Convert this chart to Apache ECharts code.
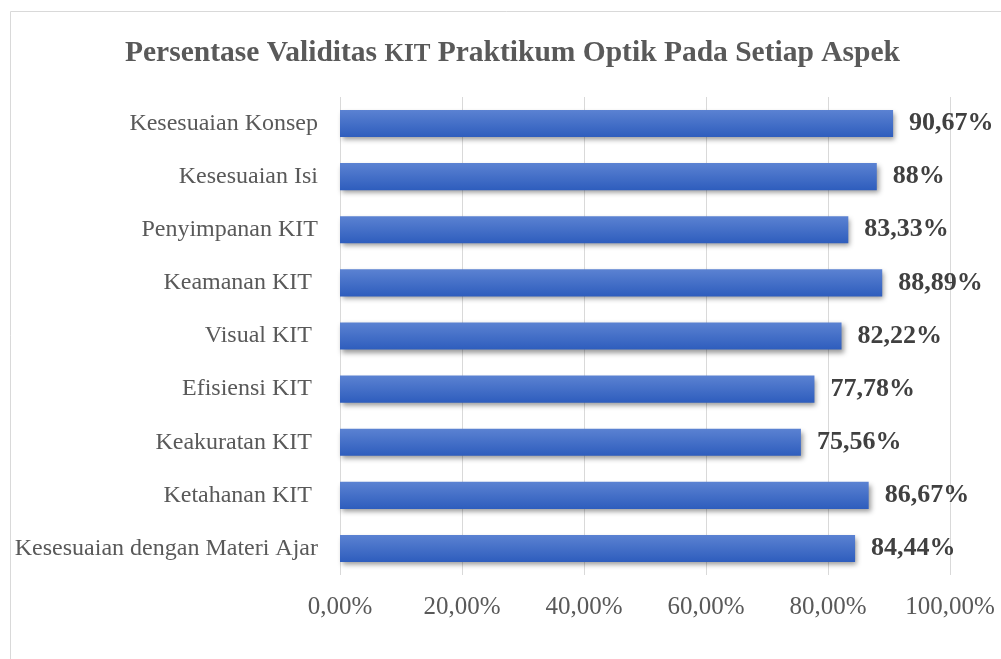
<!DOCTYPE html>
<html>
<head>
<meta charset="utf-8">
<script src="https://cdn.jsdelivr.net/npm/echarts@6/dist/echarts.min.js"></script>
<style>html,body{margin:0;padding:0;background:#fff;}#c{width:1001px;height:659px;}</style>
</head>
<body>
<div id="c"></div>
<script>
const categories = ["Kesesuaian Konsep", "Kesesuaian Isi", "Penyimpanan KIT", "Keamanan KIT ", "Visual KIT ", "Efisiensi KIT ", "Keakuratan KIT ", "Ketahanan KIT ", "Kesesuaian dengan Materi Ajar"];
const values = [90.67, 88, 83.33, 88.89, 82.22, 77.78, 75.56, 86.67, 84.44];
const valueLabels = ["90,67%", "88%", "83,33%", "88,89%", "82,22%", "77,78%", "75,56%", "86,67%", "84,44%"];
const titleParts = ["Persentase Validitas ", "KIT", " Praktikum Optik Pada Setiap Aspek"];

const chart = echarts.init(document.getElementById('c'));
const serif = '"Liberation Serif", "DejaVu Serif", serif';
chart.setOption({
  animation: false,
  title: {
    text: '{m|' + titleParts[0] + '}{s|' + titleParts[1] + '}{m|' + titleParts[2] + '}', left: 120, top: 29,
    textStyle: {
      fontFamily: serif, fontWeight: 'bold', fontSize: 29.5, color: '#595959',
      rich: {
        m: { fontFamily: serif, fontWeight: 'bold', fontSize: 29.5, color: '#595959', verticalAlign: 'bottom', lineHeight: 34 },
        s: { fontFamily: serif, fontWeight: 'bold', fontSize: 25, color: '#595959', verticalAlign: 'bottom', lineHeight: 34, padding: [0, 0, 1, 0] }
      }
    }
  },
  graphic: [{
    type: 'rect', silent: true,
    shape: { x: 10.5, y: 11.5, width: 1100, height: 800 },
    style: { fill: 'none', stroke: '#d9d9d9', lineWidth: 1 }
  }],
  grid: { left: 340, right: 51, top: 97, bottom: 84 },
  xAxis: {
    type: 'value', min: 0, max: 100, interval: 20,
    axisLine: { show: false }, axisTick: { show: false },
    splitLine: { lineStyle: { color: '#d9d9d9', width: 1 } },
    axisLabel: {
      margin: 20, fontFamily: serif, fontSize: 25, color: '#595959',
      formatter: v => v.toFixed(2).replace('.', ',') + '%'
    }
  },
  yAxis: {
    type: 'category', data: categories, inverse: true,
    axisLine: { show: false }, axisTick: { show: false },
    axisLabel: { margin: 22, fontFamily: serif, fontSize: 24, color: '#595959' }
  },
  series: [{
    type: 'bar', data: values, barWidth: '51%',
    itemStyle: {
      color: new echarts.graphic.LinearGradient(0, 0, 0, 1, [
        { offset: 0, color: '#5b82d2' }, { offset: 1, color: '#2e5dbd' }
      ]),
      shadowColor: 'rgba(0,0,0,0.4)', shadowBlur: 5, shadowOffsetX: 2, shadowOffsetY: 3
    },
    label: {
      show: true, position: 'right', distance: 16,
      fontFamily: serif, fontWeight: 'bold', fontSize: 26, color: '#404040',
      formatter: p => valueLabels[p.dataIndex]
    }
  }]
});
</script>
</body>
</html>
